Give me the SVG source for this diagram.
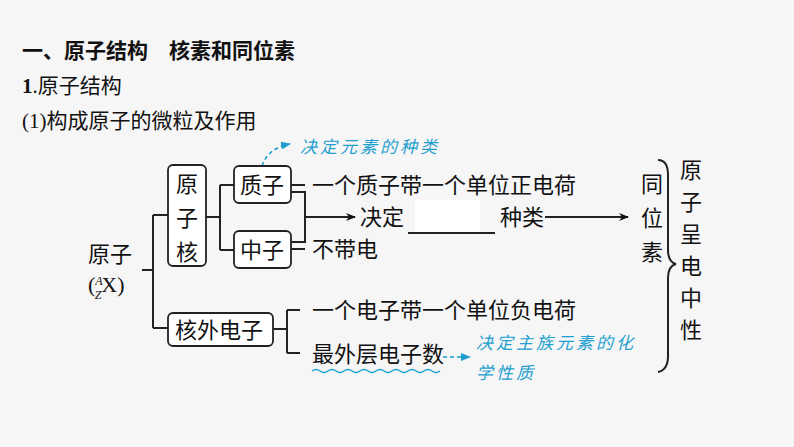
<svg xmlns="http://www.w3.org/2000/svg" width="794" height="447" viewBox="0 0 794 447">
<defs>
<style>
text{font-family:"Liberation Serif","Noto Sans CJK SC",serif;font-size:22px;fill:#111}
.b{font-weight:bold}
.n{font-family:"Liberation Serif","Noto Sans CJK SC",serif;font-size:21px}
.blue{fill:#1e9fd0;font-size:17px;font-style:italic;letter-spacing:3px}
.ln{stroke:#222;stroke-width:2;fill:none}
.box{stroke:#222;stroke-width:1.8;fill:#fff;rx:5}
.dash{stroke:#1e9fd0;stroke-width:1.6;fill:none;stroke-dasharray:4 3}
</style>
<marker id="ah" markerWidth="10" markerHeight="8" refX="9" refY="4" orient="auto" markerUnits="userSpaceOnUse"><path d="M0,0L10,4L0,8L3,4z" fill="#111"/></marker>
<marker id="bh" markerWidth="10" markerHeight="8" refX="9" refY="4" orient="auto" markerUnits="userSpaceOnUse"><path d="M0,0L10,4L0,8z" fill="#1e9fd0"/></marker>
</defs>
<rect width="794" height="447" fill="#f6f6f6"/>
<text x="22" y="58" class="b" style="font-size:21px">一、原子结构　核素和同位素</text>
<text x="22" y="93" style="font-size:21px"><tspan class="b">1</tspan>.原子结构</text>
<text x="22" y="128" style="font-size:21px">(1)构成原子的微粒及作用</text>
<g id="connectors">
<path class="ln" d="M142,270H153M153,215V328M153,215H168M153,328H168"/>
<path class="ln" d="M206,217H220M220,185V250M220,185H234M220,250H234"/>
<path class="ln" d="M291,185H305M291,192H305V242H291M291,249H305"/>
<path class="ln" d="M305,217H355" marker-end="url(#ah)"/>
<path class="ln" d="M408,233H495" stroke-width="1.5"/>
<path class="ln" d="M545,217H628" marker-end="url(#ah)"/>
<path class="ln" d="M273,329H287M287,310V353M287,310H300M287,353H300"/>
<path class="ln" stroke-width="1.5" d="M658,160Q668,160 668,175V250Q668,262 676,264Q668,266 668,278V356Q668,370 658,372"/>
<path class="dash" d="M262,166Q268,148 290,144" marker-end="url(#bh)"/>
<path class="dash" d="M443,357H470" marker-end="url(#bh)"/>
<path stroke="#1e9fd0" stroke-width="1.4" fill="none" d="M312,371q4,-3 8,0t8,0t8,0t8,0t8,0t8,0t8,0t8,0t8,0t8,0t8,0t8,0t8,0t8,0t8,0t8,0"/>
</g>
<rect x="415" y="200" width="65" height="32" fill="#fff"/>
<g id="atom"><text x="88" y="262">原子</text><text x="88" y="292">(<tspan font-size="12" font-style="italic" dy="-7">A</tspan><tspan font-size="12" font-style="italic" dx="-8" dy="14">Z</tspan><tspan dy="-7">X)</tspan></text></g>
<g id="nucleus"><rect class="box" x="168" y="165" width="38" height="101"/><text x="176" y="192">原</text><text x="176" y="226">子</text><text x="176" y="260">核</text></g>
<g id="proton"><rect class="box" x="234" y="166" width="57" height="37"/><text x="240" y="193">质子</text></g>
<g id="neutron"><rect class="box" x="234" y="231" width="57" height="37"/><text x="240" y="258">中子</text></g>
<g id="electron"><rect class="box" x="168" y="313" width="105" height="33"/><text x="175" y="338">核外电子</text></g>
<g id="labels">
<text x="312" y="193">一个质子带一个单位正电荷</text>
<text x="360" y="225">决定</text>
<text x="500" y="225">种类</text>
<text x="312" y="257">不带电</text>
<text x="312" y="318">一个电子带一个单位负电荷</text>
<text x="312" y="362">最外层电子数</text>
<text x="641" y="192">同</text><text x="641" y="226">位</text><text x="641" y="260">素</text>
<text x="680" y="178">原</text><text x="680" y="210">子</text><text x="680" y="242">呈</text><text x="680" y="274">电</text><text x="680" y="306">中</text><text x="680" y="338">性</text>
<text x="300" y="153" class="blue">决定元素的种类</text>
<text x="476" y="349" class="blue">决定主族元素的化</text>
<text x="476" y="379" class="blue">学性质</text>
</g>
</svg>
